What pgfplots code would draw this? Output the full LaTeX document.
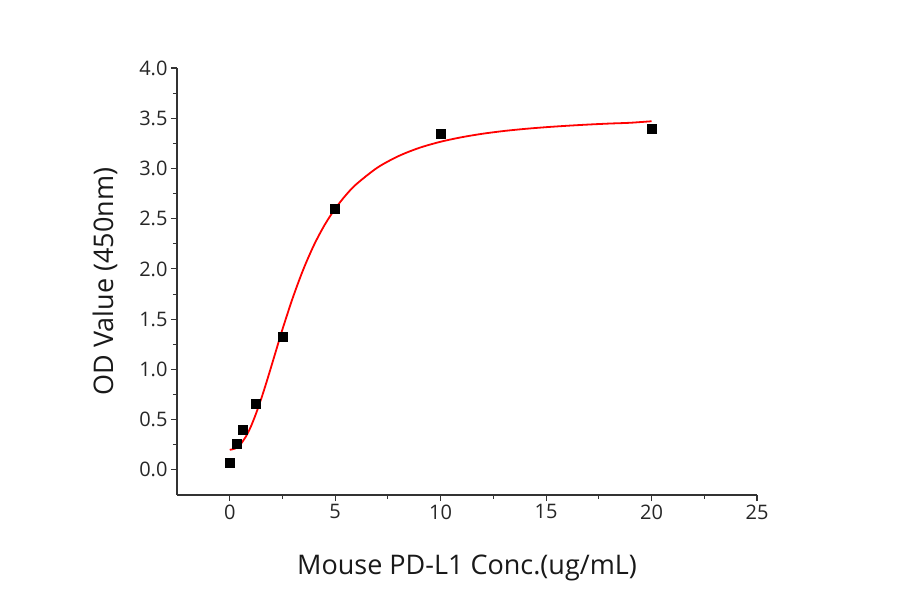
\documentclass[border=0pt]{standalone}
\usepackage{pgfplots}
\pgfplotsset{compat=1.18}
\usepackage{fontspec}
\setmainfont{Open Sans}

\begin{document}
\begin{tikzpicture}
	% fixed page size: 900 x 594
	\path[use as bounding box] (-177pt,-99pt) rectangle (723pt,495pt);
	\begin{axis}[
		scale only axis,
		width=580pt, height=427pt,
		xmin=-2.5, xmax=25, ymin=-0.25, ymax=4.0,
		axis lines=left,
		axis line style={-, black!80, line width=1.3pt},
		tick style={black!80, line width=1.1pt},
		tick align=outside,
		major tick length=6pt, minor tick length=4pt,
		minor tick num=1,
		xtick={0,5,...,25},
		ytick={0,0.5,...,4},
		/pgf/number format/assume math mode=true,
		yticklabel style={/pgf/number format/fixed, /pgf/number format/fixed zerofill, /pgf/number format/precision=1},
		ticklabel style={font=\fontsize{20}{24}\selectfont, text=black!85},
		xlabel={Mouse PD-L1 Conc.(ug/mL)},
		ylabel={OD Value (450nm)},
		label style={font=\fontsize{27}{32}\selectfont, text=black!90},
		xlabel style={yshift=-29pt},
		ylabel style={yshift=15pt},
		clip=false,
	]
		% fitted curve (4PL)
		\addplot [mark=none, red, line width=1.8pt, smooth] coordinates {
			(0,0.200) (0.25,0.212) (0.5,0.253) (0.75,0.326) (1,0.430) (1.25,0.562)
			(1.5,0.712) (1.75,0.877) (2,1.050) (2.25,1.225) (2.5,1.399) (3,1.719)
			(3.5,2.001) (4,2.240) (4.5,2.438) (5,2.600) (5.5,2.733) (6,2.843)
			(7,3.008) (8,3.123) (9,3.206) (10,3.266) (11,3.311) (12,3.346)
			(13,3.373) (14,3.394) (15,3.411) (16,3.425) (17,3.437) (18,3.447)
			(19,3.455) (20,3.470)
		};
		% measured
		\addplot [only marks, mark=square*, mark size=4.5pt, black] coordinates {
			(0,0.07) (0.3125,0.26) (0.625,0.40) (1.25,0.66) (2.5,1.33) (5,2.60) (10,3.35) (20,3.40)
		};
	\end{axis}
\end{tikzpicture}
\end{document}
